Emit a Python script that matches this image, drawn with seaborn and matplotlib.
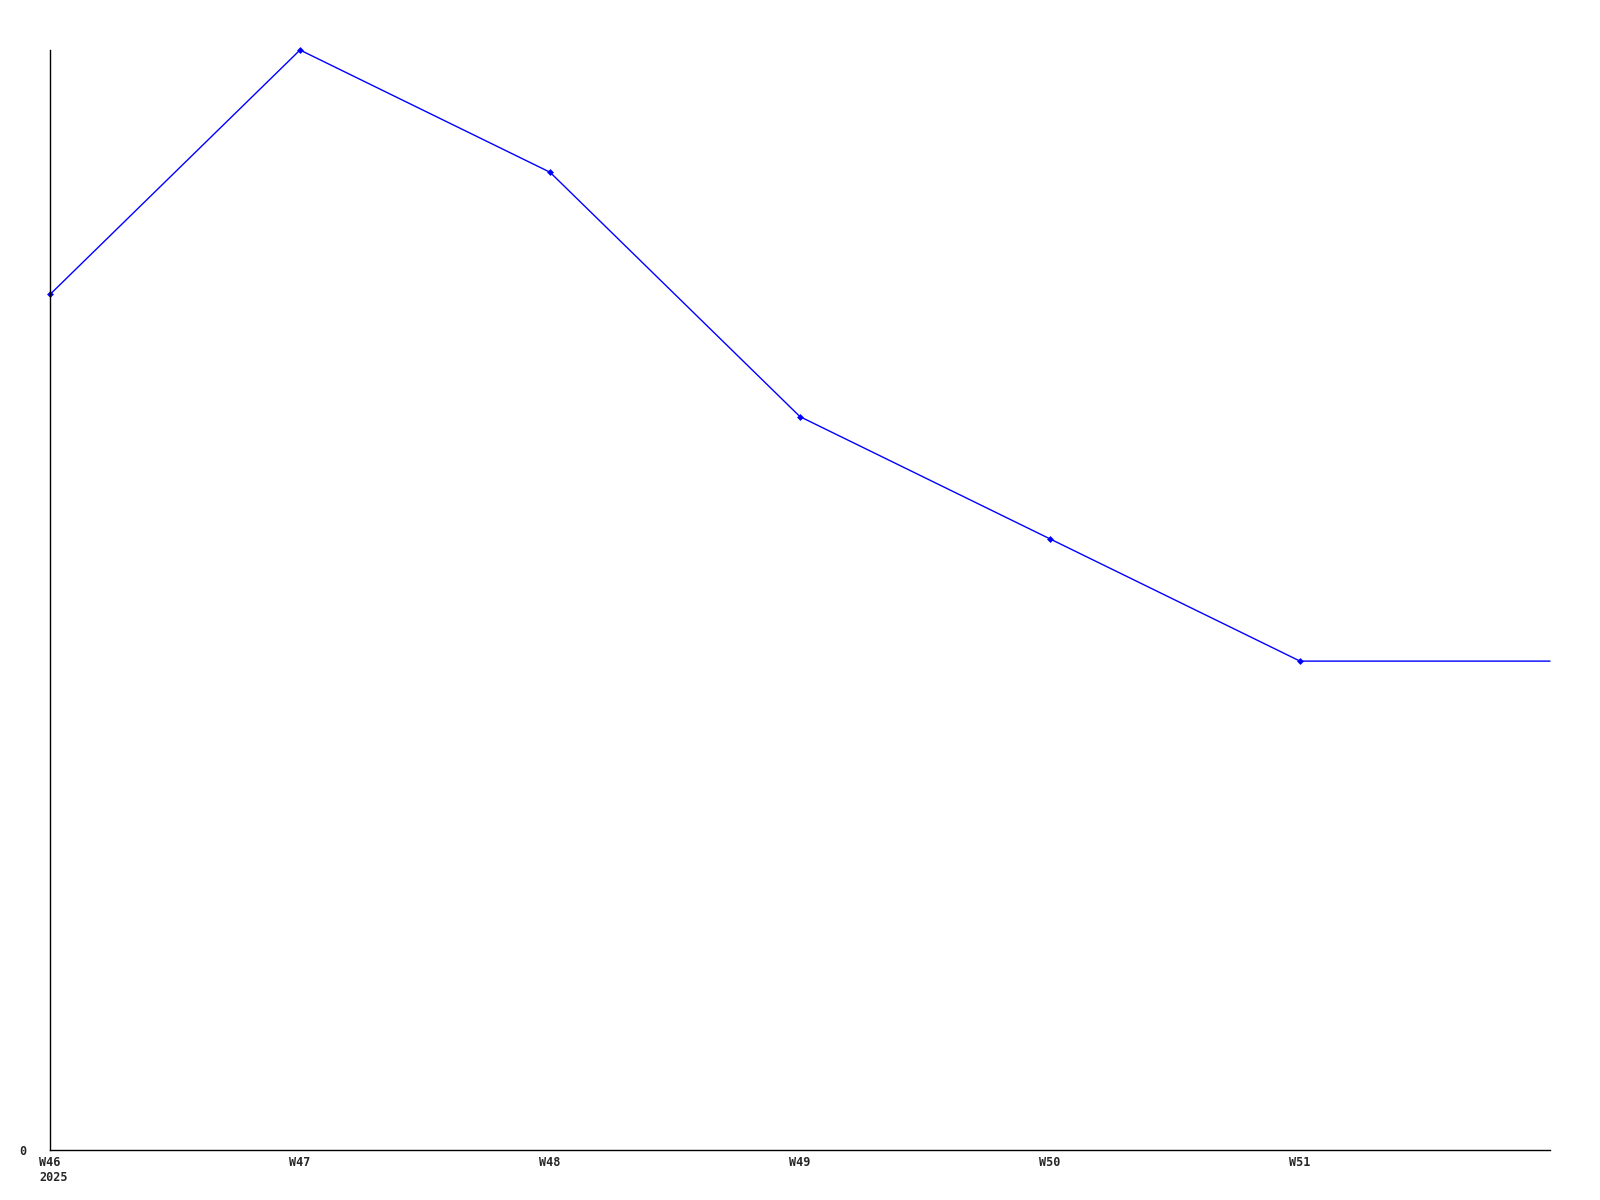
import matplotlib
matplotlib.use("Agg")
import matplotlib.pyplot as plt
import matplotlib.transforms as mtransforms
import seaborn as sns
import pandas as pd

weeks = ["W46", "W47", "W48", "W49", "W50", "W51", "W52"]
values = [7, 9, 8, 6, 5, 4, 4]
tick_labels = ["W46\n2025", "W47", "W48", "W49", "W50", "W51"]

sns.set_style("white")
plt.rcParams["font.family"] = ["DejaVu Sans Mono"]

df = pd.DataFrame({"pos": range(len(weeks)), "week": weeks, "value": values})

fig = plt.figure(figsize=(16, 12), dpi=100)
ax = fig.add_axes([50 / 1600, 50 / 1200, 1500 / 1600, 1100 / 1200])
sns.lineplot(data=df, x="pos", y="value", ax=ax, color="#0000ff", linewidth=1.0,
             marker="D", markersize=3.5, markeredgewidth=0, markevery=list(range(6)),
             clip_on=False)

ax.set_xlim(0, 6)
ax.set_ylim(0, 9)
ax.set_xticks(range(6))
ax.set_xticklabels(tick_labels, fontsize=8.5, fontweight="bold", linespacing=1.25,
                   va="top")
ax.set_yticks([0])
ax.set_yticklabels(["0"], fontsize=8.5, fontweight="bold")
ax.tick_params(axis="both", length=0)
ax.tick_params(axis="x", pad=4)
ax.tick_params(axis="y", pad=17)

# first label: left-aligned lines, "W46" centred on the tick
first = ax.get_xticklabels()[0]
first.set_horizontalalignment("left")
first.set_multialignment("left")
shift = -1.5 * 0.602 * 8.5
first.set_transform(first.get_transform() +
                    mtransforms.ScaledTranslation(shift / 72, 0, fig.dpi_scale_trans))

ax.set_xlabel("")
ax.set_ylabel("")
for s in ["top", "right"]:
    ax.spines[s].set_visible(False)
for s in ["left", "bottom"]:
    ax.spines[s].set_color("black")
    ax.spines[s].set_linewidth(1.0)
ax.grid(False)

fig.savefig("out.png", dpi=100, facecolor="white")
